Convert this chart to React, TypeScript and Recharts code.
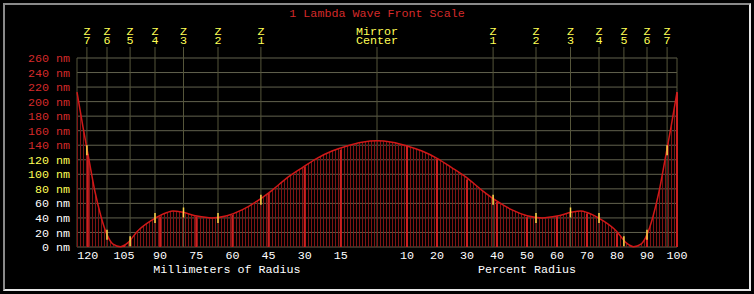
import React from 'react'
import {
  ComposedChart,
  Area,
  Scatter,
  XAxis,
  YAxis,
  CartesianGrid,
  ReferenceLine,
} from 'recharts'

// (profile is symmetric about the mirror center)
const TITLE = '1 Lambda Wave Front Scale'
const MIRROR_RADIUS_MM = 124.5

const PROFILE_PCT = [0, 5, 10, 15, 20, 25, 30, 35, 40, 45, 50, 55, 60, 65, 68, 70, 75, 80, 83, 85.5, 88, 90, 92, 94, 96, 98, 100]
const PROFILE_NM = [146, 144, 139, 132, 122, 109, 95, 78, 63, 51, 43, 40, 42.5, 48, 49.5, 47.5, 37, 21, 6, 0.5, 4, 17, 42, 76, 120, 165, 213]

const ZONE_PCT = [38.7, 53, 64.5, 74, 82.3, 90, 96.7]
const ZONE_MARK_NM = [65, 40, 47.5, 40, 8, 17, 133]

const MM_TICKS = [120, 105, 90, 75, 60, 45, 30, 15]
const MM_TICK_NM = [128, 2, 42, 42, 44, 74, 110, 134]
const PCT_TICKS = [10, 20, 30, 40, 50, 60, 70, 80, 90, 100]
const PCT_TICK_NM = [140, 121, 93, 62, 41, 42, 46, 19, 17, 213]

const Y_TICKS = [0, 20, 40, 60, 80, 100, 120, 140, 160, 180, 200, 220, 240, 260]

const FONT = "'Liberation Mono', 'DejaVu Sans Mono', monospace"
const FS = 11.7
const RED = '#d42a2a'
const YELLOW = '#ffff55'
const WHITE = '#ffffff'

const mmToX = (mm: number) => -(mm / MIRROR_RADIUS_MM) * 100

const profileData = [
  ...PROFILE_PCT.slice(1).map((p, i) => ({ x: -p, y: PROFILE_NM[i + 1] })).reverse(),
  ...PROFILE_PCT.map((p, i) => ({ x: p, y: PROFILE_NM[i] })),
]

const zoneMarks = [
  ...ZONE_PCT.map((p, i) => ({ x: -p, y: ZONE_MARK_NM[i] })),
  ...ZONE_PCT.map((p, i) => ({ x: p, y: ZONE_MARK_NM[i] })),
]

const bottomTicks = [...MM_TICKS.map(mmToX), ...PCT_TICKS]
const topTicks = [...ZONE_PCT.map(p => -p).reverse(), 0, ...ZONE_PCT]

const brightBars = [
  ...MM_TICKS.map((mm, i) => ({ x: mmToX(mm), y: MM_TICK_NM[i] })),
  ...PCT_TICKS.map((p, i) => ({ x: p, y: PCT_TICK_NM[i] })),
]

const yColor = (v: number) => (v >= 140 ? RED : v >= 80 ? YELLOW : WHITE)

const YTick = ({ x, y, payload }: any) => (
  <text x={x} y={y} dy="0.35em" textAnchor="end" fill={yColor(payload.value)} fontFamily={FONT} fontSize={FS}>
    {payload.value} nm
  </text>
)

const BottomTick = ({ x, y, payload }: any) => {
  const v = payload.value
  const label = v < 0 ? Math.round((-v * MIRROR_RADIUS_MM) / 100) : Math.round(v)
  return (
    <text x={x} y={y} dy="0.71em" textAnchor="middle" fill={WHITE} fontFamily={FONT} fontSize={FS}>
      {label}
    </text>
  )
}

const TopTick = ({ x, payload }: any) => {
  const v = payload.value
  let lines = ['Mirror', 'Center']
  if (v !== 0) {
    const idx = ZONE_PCT.findIndex(p => Math.abs(p - Math.abs(v)) < 0.01)
    lines = ['Z', String(idx + 1)]
  }
  return (
    <text textAnchor="middle" fill={YELLOW} fontFamily={FONT} fontSize={FS}>
      <tspan x={x} y={35}>{lines[0]}</tspan>
      <tspan x={x} y={43.5}>{lines[1]}</tspan>
    </text>
  )
}

const YellowMark = ({ cx, cy }: any) => (
  <line x1={cx} x2={cx} y1={cy - 5} y2={cy + 5} stroke="#ffd84a" strokeWidth={1.5} />
)

export default function App() {
  return (
    <div style={{ position: 'absolute', left: 0, top: 0, width: 754, height: 294, background: '#000' }}>
      <div
        style={{
          position: 'absolute',
          left: 3,
          top: 3,
          width: 748,
          height: 288,
          boxSizing: 'border-box',
          borderTop: '2px solid #8a8a8a',
          borderLeft: '2px solid #8a8a8a',
          borderRight: '2px solid #e6e6e6',
          borderBottom: '2px solid #e6e6e6',
        }}
      />
      <ComposedChart
        width={754}
        height={294}
        data={profileData}
        margin={{ top: 0, right: 77, bottom: 0, left: 0 }}
        style={{ position: 'absolute', left: 0, top: 0 }}
      >
        <defs>
          <pattern id="stripes" patternUnits="userSpaceOnUse" width={3} height={10}>
            <rect x={2} y={0} width={1} height={10} fill="#7e1414" />
          </pattern>
        </defs>
        <CartesianGrid vertical={false} stroke="#62624e" />
        <CartesianGrid horizontal={false} xAxisId="top" stroke="#55553a" />
        <XAxis
          xAxisId="bottom"
          dataKey="x"
          type="number"
          domain={[-100, 100]}
          ticks={bottomTicks}
          interval={0}
          axisLine={false}
          tickLine={false}
          tickSize={0}
          tickMargin={4}
          height={47}
          tick={<BottomTick />}
        />
        <XAxis
          xAxisId="top"
          orientation="top"
          dataKey="x"
          type="number"
          domain={[-100, 100]}
          ticks={topTicks}
          interval={0}
          axisLine={false}
          tickLine={{ stroke: '#55553a' }}
          tickSize={11}
          height={58}
          tick={<TopTick />}
        />
        <YAxis
          type="number"
          domain={[0, 260]}
          ticks={Y_TICKS}
          interval={0}
          width={77}
          axisLine={false}
          tickLine={false}
          tickSize={0}
          tickMargin={7}
          tick={<YTick />}
        />
        <Area
          xAxisId="bottom"
          type="monotone"
          dataKey="y"
          stroke="#d01818"
          strokeWidth={1.5}
          fill="url(#stripes)"
          fillOpacity={1}
          dot={false}
          activeDot={false}
          isAnimationActive={false}
        />
        {brightBars.map((b, i) => (
          <ReferenceLine
            key={i}
            xAxisId="bottom"
            segment={[{ x: b.x, y: 0 }, { x: b.x, y: b.y }]}
            stroke="#cc2020"
            strokeWidth={2}
          />
        ))}
        <Scatter
          xAxisId="bottom"
          data={zoneMarks}
          dataKey="y"
          shape={<YellowMark />}
          isAnimationActive={false}
        />
        <text x={377} y={17} textAnchor="middle" fill={RED} fontFamily={FONT} fontSize={FS}>
          {TITLE}
        </text>
        <text x={227} y={273} textAnchor="middle" fill={WHITE} fontFamily={FONT} fontSize={FS}>
          Millimeters of Radius
        </text>
        <text x={527} y={273} textAnchor="middle" fill={WHITE} fontFamily={FONT} fontSize={FS}>
          Percent Radius
        </text>
      </ComposedChart>
    </div>
  )
}
